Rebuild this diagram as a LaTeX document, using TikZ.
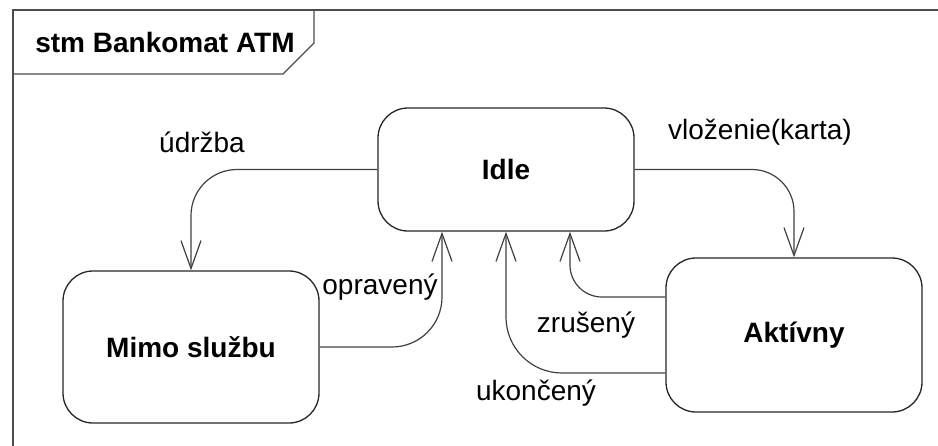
\documentclass[tikz,border=0pt]{standalone}
\usepackage{fontspec}
\setmainfont{Liberation Sans}
\usetikzlibrary{arrows.meta}
\begin{document}
\begin{tikzpicture}[x=1pt,y=-1pt,
  every node/.style={font=\fontsize{28pt}{32pt}\selectfont},
  statebox/.style={draw=black!85, line width=1.3pt, rounded corners=30pt, inner sep=0pt, font=\fontsize{28pt}{32pt}\selectfont\bfseries, minimum width=256pt},
  trans/.style={draw=black!75, line width=1.2pt, -{Straight Barb[length=28pt,width=20pt]}},
  lbl/.style={inner sep=0pt},
  framestyle/.style={draw=black!70, line width=1.2pt}]
\useasboundingbox (0,0) rectangle (938,445);
\clip (0,0) rectangle (938,445);
\draw[framestyle] (13,10) rectangle (980,490);
\draw[framestyle] (13,10) -- (314,10) -- (314,43) -- (283,74) -- (13,74);
\node[lbl, font=\fontsize{28pt}{32pt}\selectfont\bfseries] (title) at (165,42) {stm Bankomat ATM};

\node[statebox, minimum height=123pt] (idle) at (506,169.5) {Idle};
\node[statebox, minimum height=152pt] (mimo) at (191,347) {Mimo službu};
\node[statebox, minimum height=154pt] (akt) at (794,335) {Aktívny};

\draw[trans, rounded corners=46pt] (idle.west) -| (mimo.north);
\draw[trans, rounded corners=42pt] (idle.east) -| (akt.north);
\draw[trans, rounded corners=50pt] (mimo.east) -| ([xshift=-64pt]idle.south);
\draw[trans, rounded corners=32pt] ([yshift=38pt]akt.west) -| ([xshift=64pt]idle.south);
\draw[trans, rounded corners=56pt] ([yshift=-38pt]akt.west) -| (idle.south);

\node[lbl] (l1) at (202,142) {údržba};
\node[lbl] (l2) at (760,132) {vloženie(karta)};
\node[lbl] (l3) at (380,287) {opravený};
\node[lbl] (l4) at (586,325) {zrušený};
\node[lbl] (l5) at (536,393) {ukončený};
\end{tikzpicture}
\end{document}
